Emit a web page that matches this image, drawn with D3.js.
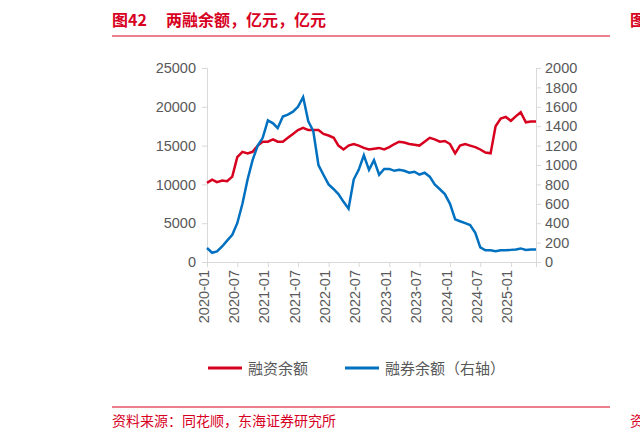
<!DOCTYPE html>
<html><head><meta charset="utf-8">
<script src="https://cdn.jsdelivr.net/npm/d3@7"></script>
<style>body{margin:0;background:#fff;font-family:"Noto Sans CJK SC","Noto Sans",sans-serif}</style>
</head><body><div id="chart"></div>
<script>
// monthly values, 2020-01 .. 2025-06
let months = d3.timeMonth.range(new Date(2020, 0, 1), new Date(2025, 6, 1)).map(d => d3.timeFormat("%Y-%m")(d));
let margin = [10200,10600,10300,10500,10400,11000,13500,14200,14000,14200,15000,15500,
  15500,15800,15500,15500,16000,16500,17000,17300,17000,17000,17000,16500,
  16300,16000,15000,14500,15000,15200,15000,14700,14500,14600,14700,14500,
  14800,15200,15500,15400,15200,15100,15000,15500,16000,15800,15500,15600,
  15200,14000,15000,15200,15000,14800,14500,14100,14000,17500,18500,18700,
  18200,18800,19300,18000,18100,18100];
let short = [144,95,110,160,220,280,400,600,850,1050,1200,1280,
  1460,1430,1380,1500,1520,1550,1600,1700,1450,1350,1000,900,
  800,750,700,620,550,850,950,1100,950,1050,900,960,
  960,940,950,940,920,930,900,920,880,800,750,700,
  600,440,420,400,380,300,150,120,120,110,120,120,
  125,130,140,125,130,130];
let xTicks = ["2020-01","2020-07","2021-01","2021-07","2022-01","2022-07","2023-01","2023-07","2024-01","2024-07","2025-01"];
let leftTicks = [0,5000,10000,15000,20000,25000];
let rightTicks = d3.range(0, 2001, 200);

let svg = d3.select("#chart").append("svg").attr("width", 640).attr("height", 441);
let parse = d3.timeParse("%Y-%m");
let x = d3.scaleTime().domain([parse("2020-01"), parse("2025-06")]).range([207, 536]);
let yL = d3.scaleLinear().domain([0, 25000]).range([262, 68]);
let yR = d3.scaleLinear().domain([0, 2000]).range([262, 68]);
let red = "#d7001f", blue = "#0070c0", grey = "#595959";

// title
svg.append("text").attr("x", 112).attr("y", 26).attr("fill", red).attr("font-size", 16).attr("font-weight", "bold").text("图42");
svg.append("text").attr("x", 166).attr("y", 26).attr("fill", red).attr("font-size", 16).attr("font-weight", "bold")
  .text("两融余额，亿元，亿元");
svg.append("text").attr("x", 630).attr("y", 26).attr("fill", red).attr("font-size", 16).attr("font-weight", "bold").text("图");
svg.append("line").attr("x1", 112).attr("x2", 610).attr("y1", 36).attr("y2", 36).attr("stroke", red).attr("stroke-width", 1.2);

// axes
let ax = g => { g.selectAll(".domain").attr("stroke", "#d9d9d9"); g.selectAll(".tick line").attr("stroke", "#d9d9d9");
  g.selectAll("text").attr("fill", grey).attr("font-size", 14.5).attr("font-family", "Arial, Liberation Sans"); };
svg.append("g").attr("transform", "translate(207,0)")
  .call(d3.axisLeft(yL).tickValues(leftTicks).tickFormat(d3.format("d")).tickSize(5).tickPadding(6)).call(ax);
svg.append("g").attr("transform", "translate(536,0)")
  .call(d3.axisRight(yR).tickValues(rightTicks).tickFormat(d3.format("d")).tickSize(5).tickPadding(4)).call(ax);
let xg = svg.append("g").attr("transform", "translate(0,262)")
  .call(d3.axisBottom(x).tickValues(xTicks.map(parse)).tickFormat(d3.timeFormat("%Y-%m")).tickSize(5)).call(ax);
xg.selectAll("text").attr("transform", "rotate(-90)").attr("text-anchor", "end").attr("x", -8).attr("y", -4).attr("dy", "0.35em");

// lines
let lineL = d3.line().x((d, i) => x(parse(months[i]))).y(d => yL(d));
let lineR = d3.line().x((d, i) => x(parse(months[i]))).y(d => yR(d));
svg.append("path").attr("d", lineL(margin)).attr("fill", "none").attr("stroke", red).attr("stroke-width", 2.5);
svg.append("path").attr("d", lineR(short)).attr("fill", "none").attr("stroke", blue).attr("stroke-width", 2.5);

// legend
let legend = [["融资余额", red, 208], ["融券余额（右轴）", blue, 345]];
legend.forEach(l => {
  svg.append("line").attr("x1", l[2]).attr("x2", l[2] + 34).attr("y1", 368).attr("y2", 368).attr("stroke", l[1]).attr("stroke-width", 3);
  svg.append("text").attr("x", l[2] + 40).attr("y", 374).attr("fill", grey).attr("font-size", 15).text(l[0]);
});

// source
svg.append("line").attr("x1", 112).attr("x2", 610).attr("y1", 407).attr("y2", 407).attr("stroke", red).attr("stroke-width", 1.2);
svg.append("text").attr("x", 112).attr("y", 426).attr("fill", red).attr("font-size", 14).text("资料来源：同花顺，东海证券研究所");
svg.append("text").attr("x", 630).attr("y", 426).attr("fill", red).attr("font-size", 14).text("资");
</script></body></html>
